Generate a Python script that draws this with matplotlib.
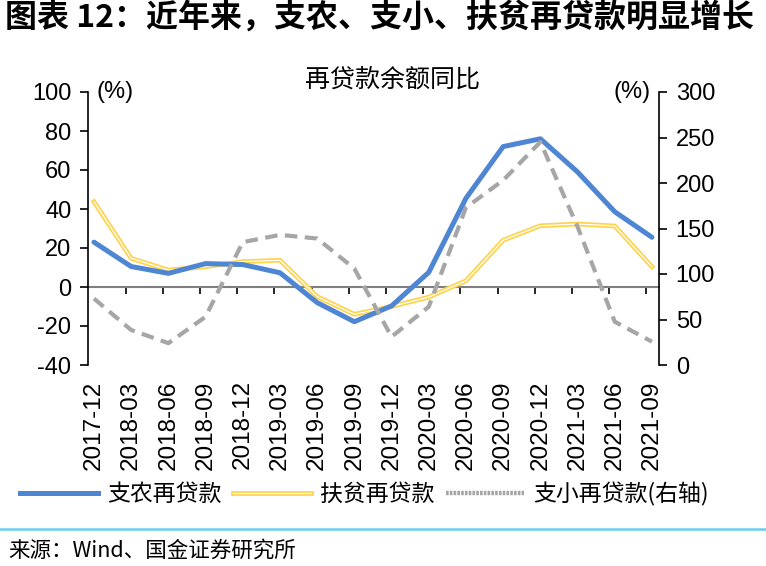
import numpy as np
import matplotlib as mpl
mpl.use('Agg')
import matplotlib.pyplot as plt
import matplotlib.patheffects as pe
from matplotlib.lines import Line2D

plt.rcParams['font.family'] = ['Liberation Sans', 'Noto Sans CJK SC', 'DejaVu Sans']
plt.rcParams['axes.unicode_minus'] = False
cjk = ['Noto Sans CJK SC', 'DejaVu Sans']

dates = ['2017-12', '2018-03', '2018-06', '2018-09', '2018-12', '2019-03',
         '2019-06', '2019-09', '2019-12', '2020-03', '2020-06', '2020-09',
         '2020-12', '2021-03', '2021-06', '2021-09']

# 支农再贷款 (左轴, %)
zhinong = [23, 10.5, 7, 12, 11.5, 7.3, -8, -17.8, -9.7, 7.5, 45.5, 72, 76, 59, 38.6, 25.5]
# 扶贫再贷款 (左轴, %)
fupin = [43.7, 14.7, 8.7, 10.4, 13, 13.7, -4.9, -14, -10, -5.2, 3.2, 24, 31.4, 32.3, 31.3, 10.4]
# 支小再贷款 (右轴, %)
zhixiao = [73, 38.5, 24, 53, 135, 143, 139, 106, 31, 64, 173, 203, 245, 152, 47.6, 25.6]

x = np.arange(len(dates))

fig = plt.figure(figsize=(7.66, 5.66), dpi=100)
ax = fig.add_axes([88/766, 1-365/566, (659-88)/766, (365-92)/566])
ax2 = ax.twinx()

blue = '#4F86D4'
ax.plot(x, zhinong, color=blue, lw=3.6, solid_capstyle='round', zorder=3)
ax.plot(x, fupin, color='white', lw=0.9, zorder=2,
        path_effects=[pe.Stroke(linewidth=3.4, foreground='#FFD34D'), pe.Normal()])
ax2.plot(x, zhixiao, color='#A6A6A6', lw=3, dashes=(3, 1.8))

ax.set_xlim(-0.16, 15.19)
ax.set_ylim(-40, 100)
ax.set_yticks(np.arange(-40, 101, 20))
ax2.set_ylim(0, 300)
ax2.set_yticks(np.arange(0, 301, 50))

ax.set_xticks(x)
ax.set_xticklabels(dates, rotation=90, fontsize=17.5)
ax.tick_params(axis='x', length=0, pad=11)
ax.tick_params(axis='y', labelsize=17, length=6, width=1.2, direction='out', pad=6)
ax2.tick_params(axis='y', labelsize=17, length=6, width=1.2, direction='out', pad=6)

for a in (ax, ax2):
    a.spines['top'].set_visible(False)
    a.spines['bottom'].set_visible(False)
ax.spines['right'].set_visible(False)
ax.spines['left'].set_linewidth(1.2)
ax2.spines['left'].set_visible(False)
ax2.spines['right'].set_linewidth(1.2)

# zero line with category tick marks
sec = ax.secondary_xaxis(40/140)
sec.set_xticks(x[1:] - 0.15)
sec.tick_params(axis='x', length=5, width=1.2, direction='out', labelbottom=False, color='black')
sec.spines['bottom'].set_color('#7F7F7F')
sec.spines['bottom'].set_linewidth(1.5)

ax.text(0.015, 1.0, '(%)', transform=ax.transAxes, fontsize=17, va='center', ha='left')
ax2.text(0.985, 1.0, '(%)', transform=ax2.transAxes, fontsize=17, va='center', ha='right')

fig.text(393/766, 1-80/566, '再贷款余额同比', family=cjk, fontsize=18, ha='center', va='center')

fig.text(5/766, 1-18/566, '图表 12：近年来，支农、支小、扶贫再贷款明显增长', family=cjk,
         fontsize=23, fontweight='bold', fontstyle='italic', ha='left', va='center')

handles = [Line2D([], [], color=blue, lw=3.6),
           Line2D([], [], color='white', lw=0.9,
                  path_effects=[pe.Stroke(linewidth=3.4, foreground='#FFD34D'), pe.Normal()]),
           Line2D([], [], color='#A6A6A6', lw=3.2, dashes=(0.6, 0.25))]
labels = ['支农再贷款', '扶贫再贷款', '支小再贷款(右轴)']
fig.legend(handles, labels, loc='center left', bbox_to_anchor=(20/766, 1-494/566), ncol=3,
           frameon=False, prop={'family': cjk, 'size': 16.5}, handlelength=3.4,
           handletextpad=0.4, columnspacing=0.5, borderpad=0, borderaxespad=0)

fig.add_artist(Line2D([0, 1], [1-529/566, 1-529/566], color='#6BCDF0', lw=1.8,
                      transform=fig.transFigure))
fig.text(8/766, 1-551/566, '来源：Wind、国金证券研究所', family=cjk, fontsize=15.5,
         ha='left', va='center')

fig.savefig('out.png', dpi=100)
